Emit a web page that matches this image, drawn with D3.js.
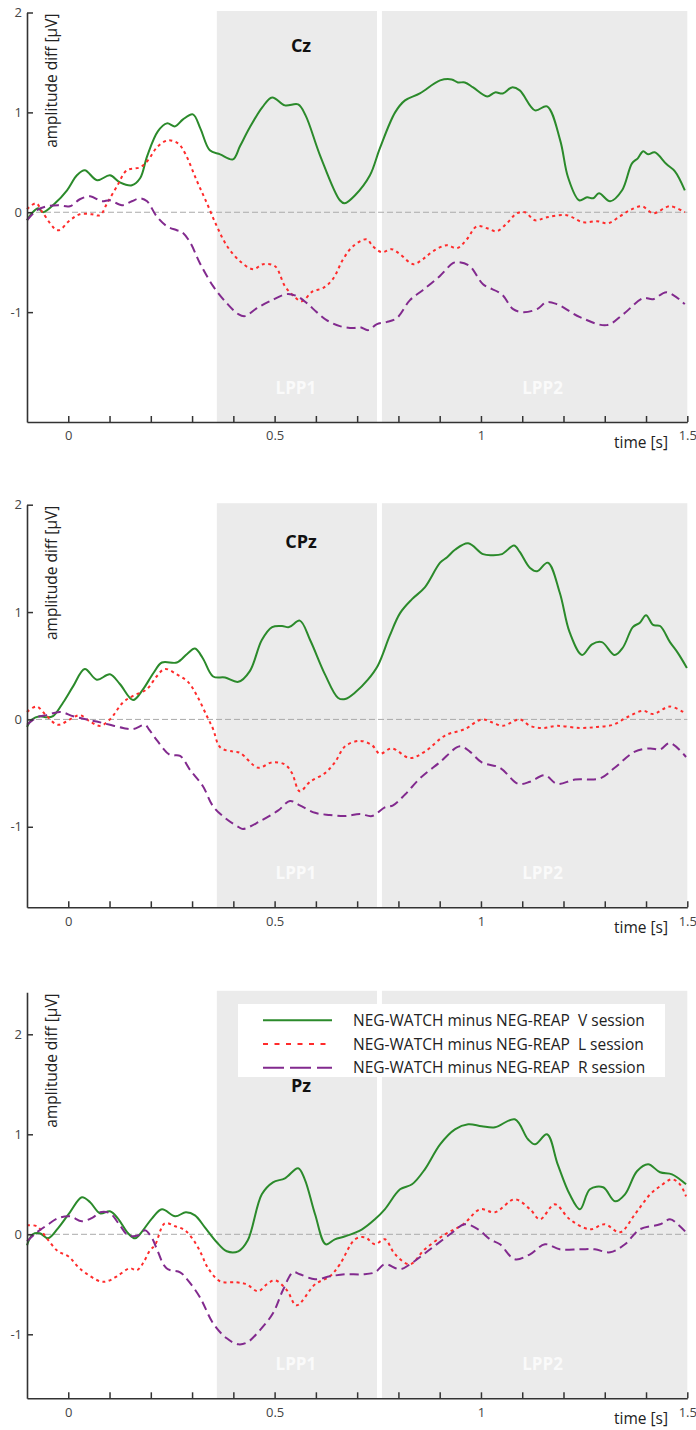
<!DOCTYPE html>
<html>
<head>
<meta charset="utf-8">
<script src="https://cdn.jsdelivr.net/npm/d3@7"></script>
<style>
  body { margin: 0; background: #fff; }
  svg { display: block; font-family: "Open Sans", "Noto Sans", sans-serif; }
</style>
</head>
<body>
<svg id="chart" width="696" height="1430"></svg>
<script>
// ---- data: [time (s), amplitude diff (uV)] ----
var czV = [[-0.1,-0.08],[-0.086,0.0],[-0.073,0.04],[-0.061,0.0],[-0.032,0.09],[-0.003,0.22],[0.021,0.37],[0.040,0.42],[0.070,0.32],[0.101,0.37],[0.125,0.30],[0.154,0.27],[0.174,0.34],[0.191,0.56],[0.217,0.81],[0.239,0.89],[0.259,0.86],[0.278,0.93],[0.302,0.98],[0.320,0.84],[0.343,0.62],[0.368,0.58],[0.399,0.53],[0.416,0.66],[0.44,0.85],[0.47,1.05],[0.494,1.15],[0.525,1.07],[0.557,1.08],[0.575,0.97],[0.61,0.57],[0.658,0.12],[0.67,0.09],[0.695,0.17],[0.731,0.37],[0.755,0.64],[0.792,1.0],[0.816,1.12],[0.852,1.19],[0.901,1.32],[0.929,1.33],[0.944,1.30],[0.961,1.30],[0.981,1.25],[1.015,1.16],[1.034,1.20],[1.053,1.19],[1.075,1.25],[1.094,1.22],[1.131,1.02],[1.160,1.06],[1.192,0.72],[1.211,0.35],[1.238,0.12],[1.257,0.15],[1.272,0.14],[1.286,0.19],[1.313,0.11],[1.342,0.22],[1.366,0.49],[1.380,0.54],[1.393,0.61],[1.405,0.58],[1.421,0.60],[1.450,0.48],[1.470,0.41],[1.494,0.22]];
var czL = [[-0.1,0.03],[-0.078,0.09],[-0.061,-0.01],[-0.025,-0.18],[0.004,-0.08],[0.028,-0.02],[0.057,-0.02],[0.077,-0.03],[0.094,0.09],[0.118,0.26],[0.142,0.42],[0.174,0.45],[0.193,0.52],[0.217,0.66],[0.242,0.72],[0.266,0.69],[0.283,0.59],[0.311,0.32],[0.336,0.09],[0.360,-0.14],[0.385,-0.34],[0.416,-0.49],[0.448,-0.57],[0.472,-0.52],[0.501,-0.54],[0.525,-0.74],[0.549,-0.85],[0.566,-0.89],[0.593,-0.79],[0.617,-0.76],[0.641,-0.67],[0.666,-0.47],[0.690,-0.34],[0.723,-0.27],[0.738,-0.34],[0.760,-0.40],[0.784,-0.37],[0.804,-0.42],[0.836,-0.52],[0.859,-0.47],[0.884,-0.39],[0.917,-0.33],[0.942,-0.36],[0.966,-0.27],[0.99,-0.14],[1.015,-0.16],[1.038,-0.19],[1.063,-0.11],[1.087,-0.01],[1.107,0.0],[1.131,-0.08],[1.160,-0.05],[1.208,-0.03],[1.247,-0.10],[1.281,-0.09],[1.308,-0.11],[1.337,-0.04],[1.361,0.02],[1.390,0.06],[1.417,-0.01],[1.458,0.06],[1.494,0.0]];
var czR = [[-0.1,-0.08],[-0.076,0.02],[-0.052,0.06],[-0.025,0.07],[0.004,0.06],[0.028,0.13],[0.053,0.16],[0.081,0.11],[0.101,0.12],[0.130,0.07],[0.154,0.11],[0.174,0.14],[0.191,0.11],[0.214,-0.04],[0.239,-0.14],[0.263,-0.18],[0.276,-0.2],[0.295,-0.3],[0.319,-0.51],[0.351,-0.74],[0.384,-0.91],[0.412,-1.02],[0.428,-1.04],[0.457,-0.96],[0.489,-0.89],[0.529,-0.82],[0.554,-0.84],[0.578,-0.91],[0.602,-1.0],[0.626,-1.08],[0.658,-1.14],[0.690,-1.16],[0.707,-1.15],[0.727,-1.18],[0.748,-1.12],[0.771,-1.10],[0.796,-1.06],[0.828,-0.88],[0.859,-0.78],[0.900,-0.64],[0.932,-0.51],[0.945,-0.50],[0.973,-0.54],[1.005,-0.72],[1.05,-0.82],[1.078,-0.97],[1.102,-1.0],[1.136,-0.97],[1.159,-0.90],[1.184,-0.92],[1.24,-1.05],[1.305,-1.13],[1.345,-1.02],[1.393,-0.86],[1.417,-0.87],[1.45,-0.80],[1.494,-0.92]];

var cpzV = [[-0.1,-0.07],[-0.088,0],[-0.069,0.03],[-0.052,0.02],[-0.037,0.03],[-0.012,0.16],[0.012,0.31],[0.040,0.47],[0.069,0.37],[0.101,0.42],[0.125,0.33],[0.157,0.18],[0.181,0.28],[0.206,0.43],[0.227,0.53],[0.263,0.53],[0.288,0.61],[0.307,0.66],[0.326,0.57],[0.351,0.40],[0.380,0.39],[0.412,0.35],[0.44,0.45],[0.469,0.74],[0.494,0.86],[0.518,0.87],[0.535,0.86],[0.561,0.92],[0.586,0.74],[0.622,0.42],[0.654,0.2],[0.671,0.19],[0.695,0.25],[0.726,0.37],[0.75,0.5],[0.779,0.78],[0.804,0.99],[0.833,1.12],[0.864,1.23],[0.901,1.46],[0.918,1.51],[0.937,1.58],[0.969,1.64],[1.005,1.54],[1.026,1.53],[1.051,1.54],[1.080,1.62],[1.094,1.56],[1.119,1.41],[1.136,1.38],[1.162,1.46],[1.191,1.18],[1.215,0.81],[1.245,0.60],[1.269,0.70],[1.293,0.72],[1.324,0.60],[1.344,0.67],[1.368,0.86],[1.385,0.90],[1.400,0.97],[1.417,0.88],[1.434,0.87],[1.458,0.72],[1.477,0.62],[1.499,0.48]];
var cpzL = [[-0.1,0.07],[-0.077,0.12],[-0.052,0.03],[-0.025,-0.05],[0.004,0],[0.028,0.04],[0.053,-0.02],[0.077,-0.06],[0.101,0],[0.133,0.16],[0.157,0.22],[0.19,0.28],[0.214,0.40],[0.234,0.47],[0.263,0.42],[0.29,0.35],[0.312,0.22],[0.336,0.03],[0.351,-0.09],[0.368,-0.26],[0.399,-0.30],[0.416,-0.31],[0.46,-0.45],[0.494,-0.40],[0.525,-0.42],[0.542,-0.5],[0.561,-0.67],[0.586,-0.58],[0.622,-0.5],[0.646,-0.4],[0.671,-0.25],[0.707,-0.2],[0.736,-0.24],[0.755,-0.32],[0.784,-0.27],[0.828,-0.36],[0.864,-0.3],[0.913,-0.15],[0.961,-0.09],[1.002,0],[1.029,-0.03],[1.053,-0.06],[1.094,0],[1.119,-0.06],[1.150,-0.08],[1.184,-0.06],[1.24,-0.08],[1.281,-0.07],[1.32,-0.05],[1.354,0.02],[1.393,0.08],[1.417,0.05],[1.458,0.12],[1.494,0.06]];
var cpzR = [[-0.1,-0.05],[-0.076,0.02],[-0.052,0.04],[-0.02,0.07],[0.012,0.03],[0.045,0],[0.069,-0.02],[0.101,-0.05],[0.133,-0.08],[0.157,-0.09],[0.186,-0.05],[0.195,-0.09],[0.214,-0.19],[0.246,-0.33],[0.271,-0.34],[0.295,-0.47],[0.326,-0.62],[0.351,-0.81],[0.384,-0.93],[0.412,-1.0],[0.423,-1.02],[0.464,-0.95],[0.508,-0.85],[0.537,-0.76],[0.561,-0.8],[0.598,-0.87],[0.634,-0.89],[0.671,-0.9],[0.707,-0.88],[0.736,-0.9],[0.767,-0.82],[0.787,-0.8],[0.816,-0.7],[0.852,-0.55],[0.9,-0.4],[0.949,-0.25],[0.973,-0.3],[1.002,-0.4],[1.046,-0.45],[1.09,-0.6],[1.119,-0.58],[1.155,-0.52],[1.184,-0.6],[1.228,-0.56],[1.288,-0.55],[1.324,-0.45],[1.373,-0.3],[1.41,-0.27],[1.434,-0.28],[1.458,-0.22],[1.497,-0.35]];

var pzV = [[-0.1,-0.11],[-0.086,0],[-0.069,0.01],[-0.049,-0.04],[-0.025,0.06],[0.004,0.22],[0.033,0.37],[0.053,0.32],[0.077,0.21],[0.101,0.23],[0.12,0.16],[0.145,0.01],[0.162,-0.04],[0.181,0.04],[0.203,0.16],[0.227,0.25],[0.259,0.18],[0.285,0.22],[0.307,0.19],[0.331,0.07],[0.360,-0.08],[0.384,-0.17],[0.412,-0.17],[0.435,-0.06],[0.469,0.4],[0.496,0.52],[0.525,0.56],[0.557,0.66],[0.573,0.55],[0.598,0.2],[0.624,-0.1],[0.646,-0.05],[0.671,-0.02],[0.712,0.05],[0.743,0.15],[0.767,0.25],[0.804,0.45],[0.833,0.5],[0.864,0.65],[0.901,0.9],[0.937,1.05],[0.969,1.1],[1.002,1.08],[1.034,1.07],[1.082,1.15],[1.114,0.95],[1.131,0.9],[1.16,1.0],[1.186,0.7],[1.215,0.4],[1.24,0.25],[1.264,0.45],[1.296,0.47],[1.325,0.33],[1.349,0.4],[1.378,0.63],[1.405,0.7],[1.434,0.62],[1.463,0.6],[1.497,0.5]];
var pzL = [[-0.1,0.09],[-0.076,0.08],[-0.052,-0.04],[-0.025,-0.17],[0.0,-0.22],[0.03,-0.35],[0.077,-0.47],[0.094,-0.47],[0.118,-0.42],[0.149,-0.34],[0.166,-0.36],[0.181,-0.29],[0.198,-0.16],[0.210,-0.11],[0.234,0.11],[0.259,0.08],[0.283,0.04],[0.307,-0.08],[0.324,-0.21],[0.336,-0.32],[0.368,-0.47],[0.408,-0.48],[0.432,-0.5],[0.46,-0.57],[0.481,-0.5],[0.501,-0.46],[0.53,-0.56],[0.553,-0.71],[0.598,-0.5],[0.634,-0.42],[0.658,-0.3],[0.695,-0.05],[0.719,-0.03],[0.743,-0.1],[0.767,-0.05],[0.792,-0.2],[0.828,-0.3],[0.864,-0.15],[0.913,0],[0.957,0.1],[0.998,0.25],[1.034,0.22],[1.082,0.35],[1.119,0.25],[1.143,0.15],[1.179,0.3],[1.215,0.15],[1.264,0.05],[1.3,0.1],[1.337,0.02],[1.373,0.2],[1.41,0.4],[1.434,0.48],[1.463,0.55],[1.482,0.5],[1.497,0.38]];
var pzR = [[-0.1,-0.07],[-0.076,0.02],[-0.052,0.09],[-0.025,0.16],[0.004,0.18],[0.033,0.13],[0.060,0.17],[0.077,0.22],[0.101,0.21],[0.125,0.09],[0.145,-0.01],[0.17,-0.01],[0.186,0.04],[0.203,-0.04],[0.214,-0.14],[0.238,-0.34],[0.271,-0.38],[0.288,-0.45],[0.319,-0.63],[0.351,-0.89],[0.384,-1.04],[0.412,-1.10],[0.434,-1.08],[0.464,-0.96],[0.496,-0.79],[0.52,-0.56],[0.545,-0.38],[0.561,-0.4],[0.598,-0.45],[0.634,-0.42],[0.671,-0.4],[0.712,-0.4],[0.743,-0.38],[0.767,-0.3],[0.804,-0.35],[0.828,-0.3],[0.877,-0.15],[0.925,0],[0.961,0.1],[0.993,0.05],[1.022,-0.05],[1.046,-0.1],[1.082,-0.25],[1.119,-0.2],[1.155,-0.1],[1.191,-0.15],[1.24,-0.15],[1.276,-0.15],[1.313,-0.18],[1.349,-0.1],[1.385,0.05],[1.434,0.1],[1.458,0.15],[1.477,0.1],[1.497,0.02]];

var channels = ["Cz", "CPz", "Pz"];
var sessions = ["NEG-WATCH minus NEG-REAP  V session", "NEG-WATCH minus NEG-REAP  L session", "NEG-WATCH minus NEG-REAP  R session"];
var windows = [["LPP1", 0.36, 0.748], ["LPP2", 0.76, 1.5]];
var xTicks = [0, 0.1, 0.2, 0.3, 0.4, 0.5, 0.6, 0.7, 0.8, 0.9, 1, 1.1, 1.2, 1.3, 1.4, 1.5];
var xLabels = [0, 0.5, 1, 1.5];
var yTicksAll = [-1, 0, 1, 2];

var series = [[czV, czL, czR], [cpzV, cpzL, cpzR], [pzV, pzL, pzR]];

// ---- layout ----
var panels = [
  { yDom: [-2.1, 2.0], top: 12.5, bottom: 422, titleY: 52 },
  { yDom: [-1.75, 2.0], top: 504.7, bottom: 907.3, titleY: 548 },
  { yDom: [-1.64, 2.42], top: 992.3, bottom: 1398.3, titleY: 1092 }
];
var styles = [
  { color: "#2b8a2b", dash: null, legDash: null },
  { color: "#ff2b2b", dash: "3,3.5", legDash: "5,6.5" },
  { color: "#822a8e", dash: "9,5", legDash: "21,6" }
];

var svg = d3.select("#chart");
var x = d3.scaleLinear().domain([-0.1, 1.5]).range([27, 687.3]);

panels.forEach(function (p, i) {
  var y = d3.scaleLinear().domain(p.yDom).range([p.bottom, p.top]);
  var g = svg.append("g");

  // analysis windows
  g.selectAll("rect.win").data(windows).enter().append("rect")
    .attr("x", function (d) { return x(d[1]); })
    .attr("width", function (d) { return x(d[2]) - x(d[1]); })
    .attr("y", p.top - 1.5)
    .attr("height", p.bottom - p.top + 1.5)
    .attr("fill", "#ebebeb");

  g.selectAll("text.win").data(windows).enter().append("text")
    .attr("x", function (d) { return (x(d[1]) + x(d[2])) / 2 + (d[0] === "LPP2" ? 8 : -1); })
    .attr("y", p.bottom - 28)
    .attr("text-anchor", "middle")
    .attr("font-size", 17)
    .attr("font-weight", "bold")
    .attr("fill", "#fafafa")
    .text(function (d) { return d[0]; });

  // zero line
  g.append("line")
    .attr("x1", x(-0.1)).attr("x2", x(1.5))
    .attr("y1", y(0)).attr("y2", y(0))
    .attr("stroke", "#aaa").attr("stroke-width", 1)
    .attr("stroke-dasharray", "6,3");

  // curves
  var line = d3.line()
    .x(function (d) { return x(d[0]); })
    .y(function (d) { return y(d[1]); })
    .curve(d3.curveCatmullRom.alpha(0.5));

  series[i].forEach(function (s, k) {
    g.append("path")
      .attr("d", line(s))
      .attr("fill", "none")
      .attr("stroke", styles[k].color)
      .attr("stroke-width", 2)
      .attr("stroke-dasharray", styles[k].dash);
  });

  // axes
  var yAxis = d3.axisLeft(y)
    .tickValues(yTicksAll.filter(function (v) { return v <= p.yDom[1]; }))
    .tickFormat(function (d) { return String(d); })
    .tickSizeInner(-6).tickSizeOuter(0).tickPadding(5);
  var yg = g.append("g").attr("transform", "translate(" + x(-0.1) + ",0)").call(yAxis);

  var xAxis = d3.axisBottom(x)
    .tickValues(xTicks)
    .tickFormat(function (d) { return xLabels.indexOf(d) >= 0 ? String(d) : ""; })
    .tickSizeInner(-6).tickSizeOuter(0).tickPadding(9);
  var xg = g.append("g").attr("transform", "translate(0," + p.bottom + ")").call(xAxis);

  [yg, xg].forEach(function (a) {
    a.select(".domain").attr("stroke", "#333").attr("stroke-width", 1.6);
    a.selectAll(".tick line").attr("stroke", "#333").attr("stroke-width", 1.5);
    a.selectAll(".tick text").attr("fill", "#444").attr("font-size", 13)
      .attr("font-family", "'Open Sans', 'Noto Sans', sans-serif");
  });

  // labels
  g.append("text")
    .attr("transform", "translate(57," + (p.top + 1) + ") rotate(-90)")
    .attr("text-anchor", "end")
    .attr("font-size", 15.5)
    .attr("fill", "#222")
    .text("amplitude diff [\u03bcV]");

  g.append("text")
    .attr("x", 668).attr("y", p.bottom + 26)
    .attr("text-anchor", "end")
    .attr("font-size", 15.5)
    .attr("fill", "#222")
    .text("time [s]");

  g.append("text")
    .attr("x", 301)
    .attr("y", p.titleY)
    .attr("text-anchor", "middle")
    .attr("font-size", 18)
    .attr("font-weight", "bold")
    .attr("fill", "#111")
    .text(channels[i]);

  // legend in last panel
  if (i === 2) {
    var lg = g.append("g");
    lg.append("rect")
      .attr("x", 238).attr("y", 1004)
      .attr("width", 427).attr("height", 73)
      .attr("fill", "#fff");
    sessions.forEach(function (name, k) {
      var ly = 1020.3 + k * 23.7;
      lg.append("line")
        .attr("x1", 263).attr("x2", 332)
        .attr("y1", ly).attr("y2", ly)
        .attr("stroke", styles[k].color)
        .attr("stroke-width", 2)
        .attr("stroke-dasharray", styles[k].legDash);
      lg.append("text")
        .attr("x", 353).attr("y", ly + 5.5)
        .attr("font-size", 15.5)
        .attr("fill", "#222")
        .style("white-space", "pre")
        .text(name);
    });
  }
});
</script>
</body>
</html>
